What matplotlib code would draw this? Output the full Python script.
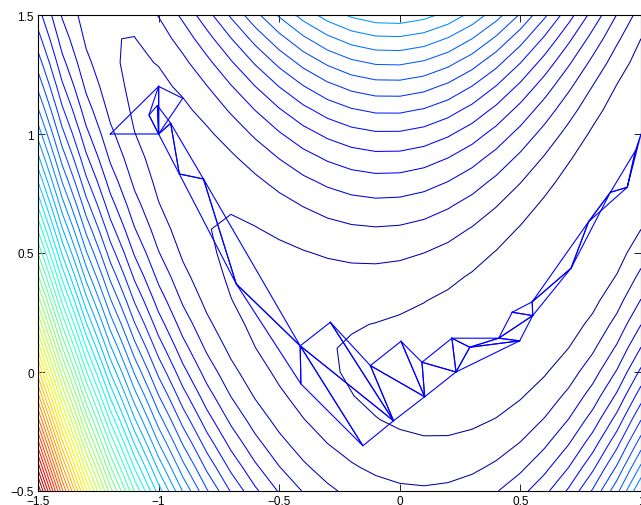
# Contour of a banana-shaped valley with the simplex path drawn on top

import numpy as np
import matplotlib.pyplot as plt

# grid and contour settings
x_grid = np.arange(-1.5, 1.0001, 0.1)
y_grid = np.arange(-0.5, 1.5001, 0.1)
n_levels = 50

# simplex vertices
vx = [-1.2, -1.0, -1.0, -0.9, -1.04, -1.005, -0.95, -0.914, -0.814, -0.678,
      -0.413, -0.41, -0.288, -0.153, -0.026, -0.122, 0.005, 0.103, 0.092,
      0.216, 0.233, 0.29, 0.497, 0.41, 0.466, 0.551, 0.549, 0.71, 0.783,
      0.873, 0.943, 0.977, 1.0]
vy = [1.0, 1.2, 1.0, 1.15, 1.08, 1.12, 1.045, 0.832, 0.811, 0.37,
      0.11, -0.05, 0.209, -0.31, -0.205, 0.027, 0.129, -0.104, 0.041,
      0.142, 0.0, 0.104, 0.131, 0.142, 0.251, 0.237, 0.295, 0.436, 0.632,
      0.755, 0.776, 0.93, 1.0]

# triangles as vertex indices
simplices = [
    (0, 1, 2), (1, 2, 3), (1, 2, 4), (2, 4, 5), (2, 5, 6), (2, 6, 7),
    (6, 7, 8), (7, 8, 9), (8, 9, 10), (9, 10, 11), (10, 11, 13),
    (10, 13, 14), (10, 12, 14), (12, 14, 15), (14, 15, 17), (15, 16, 17),
    (16, 17, 18), (17, 18, 20), (18, 19, 20), (19, 20, 21), (20, 21, 22),
    (19, 21, 23), (21, 22, 23), (22, 23, 25), (23, 24, 25), (24, 25, 26),
    (25, 26, 27), (26, 27, 28), (27, 28, 29), (28, 29, 30), (29, 30, 31),
    (30, 31, 32),
]


def banana(x, y):
    return 10 * (y - x**2)**2 + (1 - x)**2


X, Y = np.meshgrid(x_grid, y_grid)
Z = banana(X, Y)
levels = np.linspace(Z.min(), Z.max(), n_levels + 2)[1:-1]

fig = plt.figure(figsize=(6.41, 5.06), dpi=100)
ax = fig.add_axes([38 / 641, 14 / 506, 603 / 641, 476 / 506])

ax.contour(X, Y, Z, levels=levels, cmap='jet', vmin=Z.min(), vmax=Z.max(),
           linewidths=0.75)

for tri in simplices:
    px = [vx[i] for i in tri] + [vx[tri[0]]]
    py = [vy[i] for i in tri] + [vy[tri[0]]]
    ax.plot(px, py, color=(0, 0, 1), lw=0.8)

ax.set_xlim(-1.5, 1.0)
ax.set_ylim(-0.5, 1.5)
ax.set_xticks([-1.5, -1, -0.5, 0, 0.5, 1])
ax.set_yticks([-0.5, 0, 0.5, 1, 1.5])
ax.set_xticklabels(['\u22121.5', '\u22121', '\u22120.5', '0', '0.5', '1'])
ax.set_yticklabels(['\u22120.5', '0', '0.5', '1', '1.5'])
ax.tick_params(direction='in', top=True, right=True, length=5, width=0.6,
               labelsize=8.5, pad=3)
for sp in ax.spines.values():
    sp.set_linewidth(0.8)
plt.rcParams['font.family'] = ['Liberation Sans', 'DejaVu Sans']
for lab in ax.get_xticklabels() + ax.get_yticklabels():
    lab.set_family(['Liberation Sans', 'DejaVu Sans'])

fig.savefig('out.png', dpi=100)
